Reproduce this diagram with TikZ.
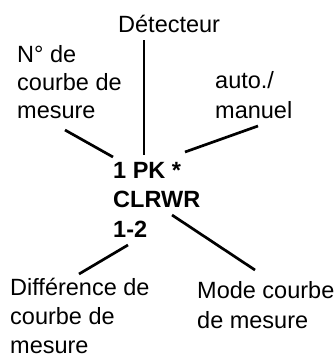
\documentclass[tikz,border=0pt]{standalone}
\usepackage{fontspec}
\setmainfont{Liberation Sans}
\begin{document}
\begin{tikzpicture}[x=1pt,y=-1pt,
  lbl/.style={font=\fontsize{23.5}{29.5}\selectfont, align=left, inner sep=0pt, anchor=base west},
  core/.style={font=\bfseries\fontsize{23.5}{29.5}\selectfont, align=left, inner sep=0pt, anchor=base west},
  conn/.style={line width=2.7pt}]
\useasboundingbox (0,0) rectangle (334,354);
% base anchor of a multi-line node = baseline of its last line
\node[lbl] (det) at (118,32) {Détecteur};
\node[lbl, font=\fontsize{23.5}{28}\selectfont] (num) at (17,118) {N° de\\courbe de\\mesure};
\node[lbl] (auto) at (215,118) {auto./\\manuel};
\node[core] (core) at (113,237) {1 PK *\\CLRWR\\1-2};
\node[lbl, font=\fontsize{23.5}{29}\selectfont] (diff) at (10,353.3) {Différence de\\courbe de\\mesure};
\node[lbl] (mode) at (197,328) {Mode courbe\\de mesure};
\coordinate (detA) at (144,40);
\coordinate (detB) at (144,155);
\coordinate (numA) at (65,130);
\coordinate (numB) at (113,157);
\coordinate (autoA) at (258,126);
\coordinate (autoB) at (185,152);
\coordinate (modeA) at (172,215);
\coordinate (modeB) at (255,270);
\coordinate (diffA) at (128,245);
\coordinate (diffB) at (79,274);
\draw[conn] (detA) -- (detB);
\draw[conn] (numA) -- (numB);
\draw[conn] (autoA) -- (autoB);
\draw[conn] (modeA) -- (modeB);
\draw[conn] (diffA) -- (diffB);
\end{tikzpicture}
\end{document}
